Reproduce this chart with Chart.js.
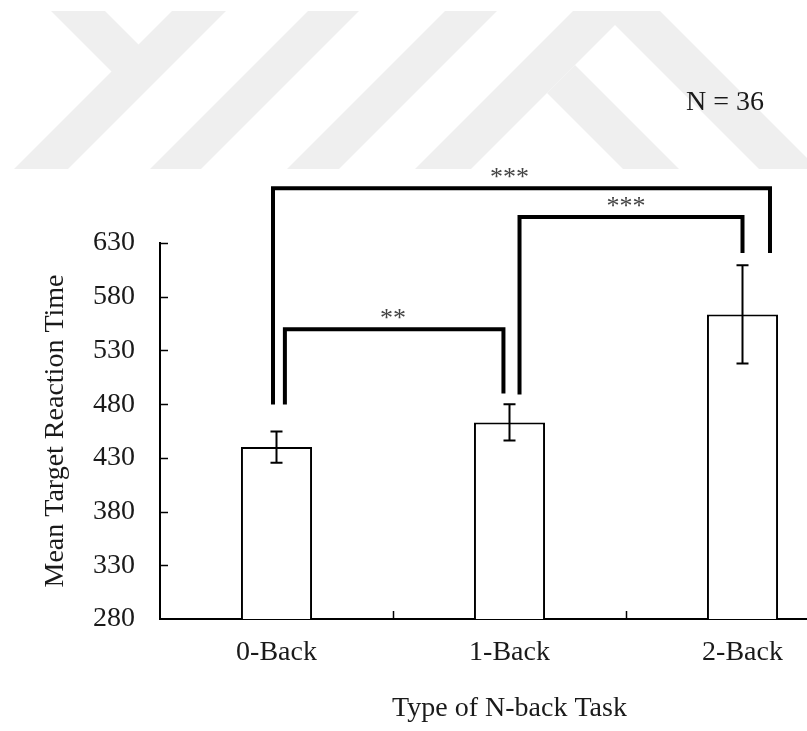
<!DOCTYPE html>
<html>
<head>
<meta charset="utf-8">
<script src="https://cdn.jsdelivr.net/npm/chart.js@4.4.1/dist/chart.umd.min.js"></script>
<style>
  html, body { margin:0; padding:0; background:#fff; overflow:hidden; width:807px; height:731px; }
  #wrap { position:relative; width:870px; height:731px; }
  #wm { position:absolute; left:0; top:0; }
  #c { position:absolute; left:0; top:0; }
</style>
</head>
<body>
<div id="wrap">
  <svg id="wm" width="870" height="731" xmlns="http://www.w3.org/2000/svg">
    <g fill="#efefef">
      <polygon points="51,11 105,11 138.5,44.5 172,11 226,11 68,169 14,169 111.5,71.5"/>
      <polygon points="308,11 359,11 201,169 150,169"/>
      <polygon points="445,11 497,11 339,169 287,169"/>
      <polygon points="573,11 629,11 471,169 415,169"/>
      <polygon points="601,11 660,11 818,169 759,169"/>
      <polygon points="575,65 679,169 623,169 547,93"/>
    </g>
  </svg>
  <canvas id="c" width="870" height="731"></canvas>
</div>
<script>
// ---- data ----
const categories = ['0-Back', '1-Back', '2-Back'];
const meanRT = [440, 463, 563.5];
const errorRT = [14.6, 16.8, 45.7];
const yTickValues = [280, 330, 380, 430, 480, 530, 580, 630];

// significance brackets (category indices and values in ms)
const sigFrom = [0, 1, 0];
const sigTo = [1, 2, 2];
const sigLevel = [549.7, 654.3, 681];
const sigLeftEnd = [479.7, 489, 479.7];
const sigRightEnd = [490, 620.7, 620.7];
const sigLabels = ['**', '***', '***'];

const sampleNote = 'N = 36';

const FONT = "'Liberation Serif', 'Times New Roman', serif";
const TEXT = '#1a1a1a';

// style: horizontal offsets of bracket legs, in category units
const legOffsetL = [0.036, 0.043, -0.015];
const legOffsetR = [-0.026, 0.0, 0.118];

const overlayPlugin = {
  id: 'overlay',
  afterDatasetsDraw(chart) {
    const ctx = chart.ctx;
    const xs = chart.scales.x, ys = chart.scales.y;
    const meta = chart.getDatasetMeta(0);
    ctx.save();
    // error bars
    ctx.strokeStyle = '#000';
    ctx.lineWidth = 2;
    meta.data.forEach((bar, i) => {
      const x = bar.x;
      const yt = ys.getPixelForValue(meanRT[i] + errorRT[i]);
      const yb = ys.getPixelForValue(meanRT[i] - errorRT[i]);
      const cap = 6;
      ctx.beginPath();
      ctx.moveTo(x, yt); ctx.lineTo(x, yb);
      ctx.moveTo(x - cap, yt); ctx.lineTo(x + cap, yt);
      ctx.moveTo(x - cap, yb); ctx.lineTo(x + cap, yb);
      ctx.stroke();
    });
    // inner tick marks
    ctx.lineWidth = 1.5;
    const left = chart.chartArea.left, bottom = chart.chartArea.bottom;
    yTickValues.forEach(v => {
      if (v === yTickValues[0]) return;
      const y = Math.round(ys.getPixelForValue(v)) + 0.5;
      ctx.beginPath(); ctx.moveTo(left, y); ctx.lineTo(left + 8, y); ctx.stroke();
    });
    for (let i = 0; i < categories.length; i++) {
      const x = Math.round(xs.getPixelForValue(i + 0.5)) + 0.5;
      ctx.beginPath(); ctx.moveTo(x, bottom); ctx.lineTo(x, bottom - 8); ctx.stroke();
    }
    // significance brackets
    ctx.lineWidth = 4;
    ctx.lineJoin = 'miter';
    const catW = xs.getPixelForValue(1) - xs.getPixelForValue(0);
    for (let k = 0; k < sigLabels.length; k++) {
      const xl = xs.getPixelForValue(sigFrom[k]) + legOffsetL[k] * catW;
      const xr = xs.getPixelForValue(sigTo[k]) + legOffsetR[k] * catW;
      const yl = ys.getPixelForValue(sigLevel[k]);
      ctx.beginPath();
      ctx.moveTo(xl, ys.getPixelForValue(sigLeftEnd[k]));
      ctx.lineTo(xl, yl);
      ctx.lineTo(xr, yl);
      ctx.lineTo(xr, ys.getPixelForValue(sigRightEnd[k]));
      ctx.stroke();
      ctx.fillStyle = '#444';
      ctx.font = '26px ' + FONT;
      ctx.textAlign = 'center';
      ctx.textBaseline = 'alphabetic';
      const xc = xs.getPixelForValue((sigFrom[k] + sigTo[k]) / 2);
      ctx.fillText(sigLabels[k], xc, yl - 3);
    }
    // N note
    ctx.fillStyle = TEXT;
    ctx.font = '28px ' + FONT;
    ctx.textAlign = 'left';
    ctx.textBaseline = 'alphabetic';
    ctx.fillText(sampleNote, 686, 110);
    ctx.restore();
  }
};

new Chart(document.getElementById('c'), {
  type: 'bar',
  data: {
    labels: categories,
    datasets: [{
      data: meanRT,
      backgroundColor: '#ffffff',
      borderColor: '#000000',
      borderWidth: 2,
      categoryPercentage: 0.305,
      barPercentage: 1.0
    }]
  },
  options: {
    responsive: false,
    animation: false,
    devicePixelRatio: 1,
    layout: { padding: { left: 0, top: 243, right: 11, bottom: 0 } },
    plugins: { legend: { display: false }, tooltip: { enabled: false } },
    scales: {
      x: {
        grid: { display: false, drawTicks: false },
        border: { display: true, color: '#000', width: 2 },
        ticks: { font: { family: FONT, size: 28 }, color: TEXT, padding: 17, maxRotation: 0, autoSkip: false },
        title: { display: true, text: 'Type of N-back Task', font: { family: FONT, size: 28, lineHeight: 1 }, color: TEXT, padding: { top: 0, bottom: 8.5 } },
        afterFit(axis) { axis.height = 112; }
      },
      y: {
        min: 280, max: 630,
        grid: { display: false, drawTicks: false },
        border: { display: true, color: '#000', width: 2 },
        afterBuildTicks(axis) { axis.ticks = yTickValues.map(v => ({ value: v })); },
        ticks: { font: { family: FONT, size: 28 }, color: TEXT, padding: 25 },
        title: { display: true, text: 'Mean Target Reaction Time', font: { family: FONT, size: 28, lineHeight: 1 }, color: TEXT, padding: { top: 42, bottom: 0 } },
        afterFit(axis) { axis.width = 160; }
      }
    }
  },
  plugins: [overlayPlugin]
});
</script>
</body>
</html>
